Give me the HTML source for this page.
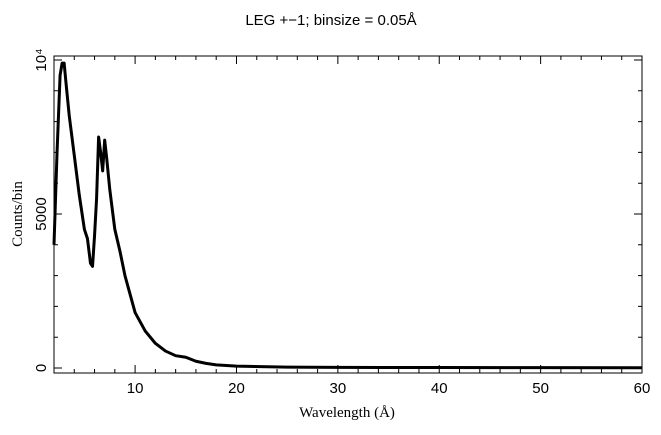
<!DOCTYPE html>
<html><head><meta charset="utf-8"><style>body{margin:0;background:#fff}svg{display:block}</style></head>
<body>
<svg width="661" height="435" xmlns="http://www.w3.org/2000/svg">
<text x="331" y="25" text-anchor="middle" font-family="Liberation Sans, sans-serif" font-size="15">LEG +−1; binsize = 0.05Å</text>
<text x="347" y="417" text-anchor="middle" font-family="Liberation Serif, serif" font-size="15">Wavelength (Å)</text>
<text transform="translate(22,214) rotate(-90)" text-anchor="middle" font-family="Liberation Serif, serif" font-size="15">Counts/bin</text>
<g id="axes"></g>
<path id="series" fill="none" stroke="#000" stroke-width="3" stroke-linejoin="round"/>
<rect x="54" y="56" width="588" height="317" fill="none" stroke="#000" stroke-width="1"/>
</svg>
<script>
const wavelengths=[2.0,2.3,2.6,2.8,3.0,3.2,3.5,4.0,4.5,5.0,5.3,5.6,5.8,6.0,6.2,6.4,6.6,6.8,7.0,7.2,7.5,8,8.5,9,10,11,12,13,14,15,16,17,18,20,25,30,40,50,60];
const counts=[4000,7000,9500,9900,9900,9200,8200,6900,5600,4500,4200,3400,3300,4300,5500,7500,7000,6400,7400,6800,5800,4500,3800,3000,1800,1200,800,550,400,350,220,150,100,60,30,20,15,12,10];
const xTicks=[10,20,30,40,50,60];
const yTicks=[0,5000,10000];
const yTickLabels=["0","5000","10⁴"];
const xs=v=>54+(v-2)*(588/58);
const ys=v=>368-v*0.0308;
const NS="http://www.w3.org/2000/svg";
const ax=document.getElementById('axes');
let d='';
for(let v=2;v<=60;v+=2){const x=xs(v),L=v%10===0?8:4;d+=`M${x},373v${-L}M${x},56v${L}`;}
for(let v=0;v<=10000;v+=1000){const y=ys(v),L=v%5000===0?8:4;d+=`M54,${y}h${L}M642,${y}h${-L}`;}
const tk=document.createElementNS(NS,'path');
tk.setAttribute('d',d);tk.setAttribute('stroke','#000');tk.setAttribute('fill','none');


ax.appendChild(tk);
xTicks.forEach(v=>{const t=document.createElementNS(NS,'text');
t.setAttribute('x',xs(v));t.setAttribute('y',393);t.setAttribute('text-anchor','middle');
t.setAttribute('font-family','Liberation Sans, sans-serif');t.setAttribute('font-size','15');


t.textContent=v;ax.appendChild(t);});
yTicks.forEach((v,i)=>{const t=document.createElementNS(NS,'text');
t.setAttribute('transform',`translate(46,${ys(v)}) rotate(-90)`);t.setAttribute('text-anchor','middle');
t.setAttribute('font-family','Liberation Sans, sans-serif');t.setAttribute('font-size','15');


t.textContent=yTickLabels[i];ax.appendChild(t);});
document.getElementById('series').setAttribute('d',wavelengths.map((w,i)=>(i?'L':'M')+xs(w)+','+ys(counts[i])).join(''));
</script>
</body></html>
